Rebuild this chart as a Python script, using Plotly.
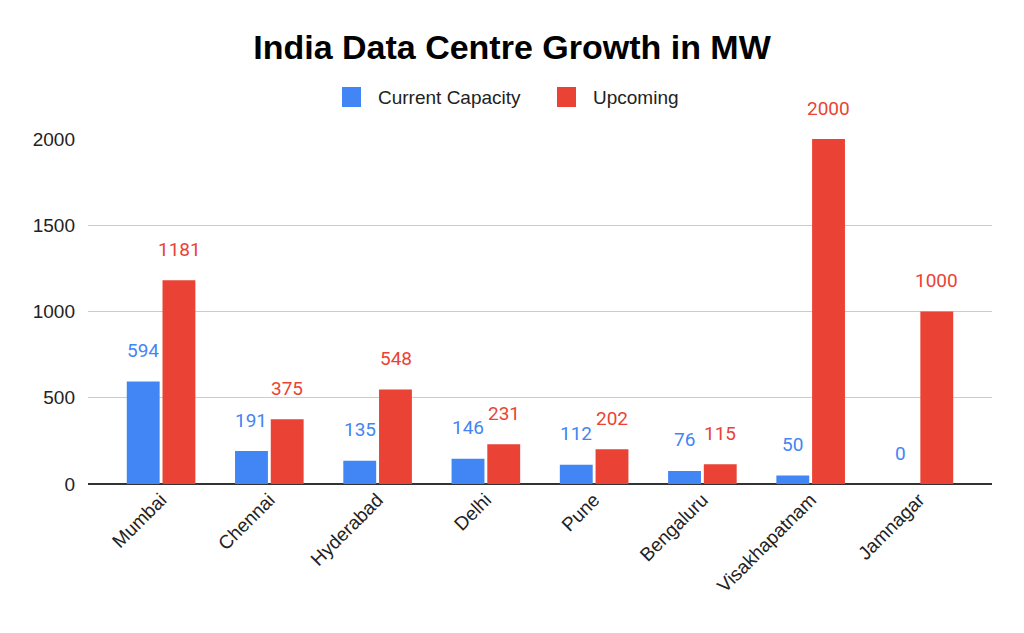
import plotly.graph_objects as go

cities = ["Mumbai", "Chennai", "Hyderabad", "Delhi", "Pune", "Bengaluru", "Visakhapatnam", "Jamnagar"]
current = [594, 191, 135, 146, 112, 76, 50, 0]
upcoming = [1181, 375, 548, 231, 202, 115, 2000, 1000]
series_names = ["Current Capacity", "Upcoming"]
y_ticks = [0, 500, 1000, 1500, 2000]

BLUE = "#4285F4"
RED = "#EA4335"
W, H = 1024, 633

fig = go.Figure()
fig.add_trace(go.Bar(x=cities, y=current, name=series_names[0], marker_color=BLUE,
                     marker_line_width=0, showlegend=False))
fig.add_trace(go.Bar(x=cities, y=upcoming, name=series_names[1], marker_color=RED,
                     marker_line_width=0, showlegend=False))

annotations = []
for series, color, shift in ((current, BLUE, -18), (upcoming, RED, 18)):
    for c, v in zip(cities, series):
        annotations.append(dict(x=c, y=v, text=str(v), showarrow=False, xref="x", yref="y",
                                xshift=shift, yshift=31, yanchor="middle",
                                font=dict(family="Roboto", size=19, color=color)))

# custom legend (larger swatches like the original)
shapes = []
legend_items = [(series_names[0], BLUE, 342), (series_names[1], RED, 557)]
for name, color, x0 in legend_items:
    shapes.append(dict(type="rect", xref="paper", yref="paper",
                       x0=(x0 - 88) / 904, x1=(x0 + 19 - 88) / 904,
                       y0=(H - 149 - 107) / 345, y1=(H - 149 - 87) / 345,
                       fillcolor=color, line_width=0))
    annotations.append(dict(x=(x0 + 34 - 88) / 904, y=(H - 149 - 97) / 345, xref="paper", yref="paper",
                            text=name, showarrow=False, xanchor="left", yanchor="middle",
                            font=dict(family="Liberation Sans", size=19, color="#222")))

fig.update_layout(
    width=W, height=H,
    margin=dict(l=88, r=32, t=139, b=149),
    paper_bgcolor="white", plot_bgcolor="white",
    title=dict(text="<b>India Data Centre Growth in MW</b>", x=0.5, xanchor="center",
               y=1 - 47 / H, yanchor="middle",
               font=dict(family="Liberation Sans", size=34, color="black")),
    barmode="group", bargap=0.34, bargroupgap=0.08,
    annotations=annotations, shapes=shapes,
    xaxis=dict(range=[-0.675, 7.675], tickangle=-45, showgrid=False,
               tickfont=dict(family="Liberation Sans", size=19, color="#222"),
               showline=False, ticks=""),
    yaxis=dict(range=[0, 2000], tickvals=y_ticks, showgrid=True, gridcolor="#cccccc",
               gridwidth=1, zeroline=True, zerolinecolor="#333333", zerolinewidth=2,
               tickfont=dict(family="Liberation Sans", size=19, color="#222"), ticks="",
               ticklabelstandoff=12),
)
fig.write_html("out.html")
